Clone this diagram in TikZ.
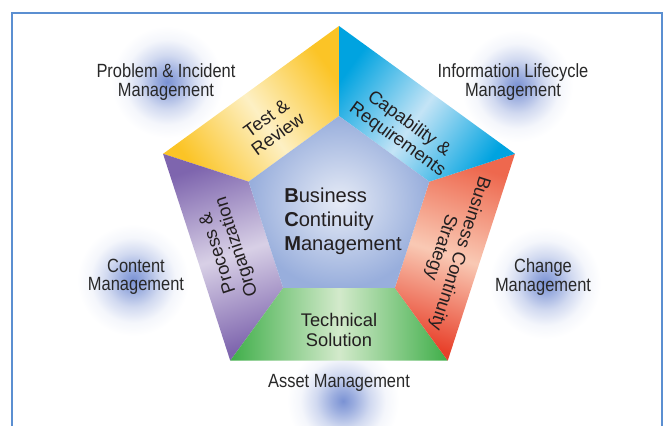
\documentclass[tikz,border=0pt]{standalone}
\usepackage{fontspec}
\setmainfont{Liberation Sans}
\newfontfamily\narrowfont[FakeStretch=0.86]{Liberation Sans}
\usepackage{tikz}

\definecolor{frameblue}{RGB}{91,143,209}
\definecolor{glowblue}{RGB}{122,146,212}
\definecolor{labelgray}{RGB}{40,40,40}
\definecolor{textdark}{RGB}{35,31,32}
\definecolor{yel}{RGB}{251,196,38}
\definecolor{yelpale}{RGB}{253,240,196}
\definecolor{capblue}{RGB}{0,163,224}
\definecolor{capbluepale}{RGB}{196,228,246}
\definecolor{redtop}{RGB}{238,104,78}
\definecolor{redbot}{RGB}{232,64,42}
\definecolor{redpale}{RGB}{249,201,180}
\definecolor{grn}{RGB}{63,174,73}
\definecolor{grnpale}{RGB}{211,234,203}
\definecolor{purp}{RGB}{126,101,174}
\definecolor{purppale}{RGB}{216,208,230}
\definecolor{bcmin}{RGB}{230,235,246}
\definecolor{bcmout}{RGB}{152,174,220}

\pgfdeclareradialshading{softglow}{\pgfpoint{0bp}{0bp}}{color(0bp)=(glowblue); color(5bp)=(glowblue!75!white); color(12bp)=(glowblue!35!white); color(19bp)=(glowblue!8!white); color(25bp)=(white); color(50bp)=(white)}

\begin{document}
\begin{tikzpicture}[x=0.025cm, y=0.025cm,
    lbl/.style={font=\narrowfont\fontsize{13.6}{13.2}\selectfont, text=labelgray, align=center},
    seg/.style={font=\fontsize{13}{14}\selectfont, text=textdark, align=center, inner sep=0},
    glow/.style={shading=softglow}]
    \useasboundingbox (-339, -215) rectangle (331, 211);
    \draw[frameblue, line width=1pt] (-327, -216) -- (-327, 198) -- (323, 198) -- (323, -216);

    \shade[glow] (-172, 129) circle (56);
    \shade[glow] (178, 125) circle (56);
    \shade[glow] (-206, -69) circle (56);
    \shade[glow] (206, -72) circle (56);
    \shade[glow] (4, -190) circle (56);

    \foreach \a [count=\i] in {90, 162, 234, 306, 18} {
        \coordinate (o\i) at (\a:185);
        \coordinate (i\i) at (\a:95);
    }
    \shade[top color=yel, bottom color=yel, middle color=yelpale, shading angle=-54] (o1) -- (o2) -- (i2) -- (i1) -- cycle;
    \shade[top color=purp, bottom color=purp, middle color=purppale, shading angle=18] (o2) -- (o3) -- (i3) -- (i2) -- cycle;
    \shade[top color=grn, bottom color=grn, middle color=grnpale, shading angle=90] (o3) -- (o4) -- (i4) -- (i3) -- cycle;
    \shade[top color=redtop, bottom color=redbot, middle color=redpale, shading angle=-18] (o4) -- (o5) -- (i5) -- (i4) -- cycle;
    \shade[top color=capblue, bottom color=capblue, middle color=capbluepale, shading angle=54] (o5) -- (o1) -- (i1) -- (i5) -- cycle;
    \shade[inner color=bcmin, outer color=bcmout] (i1) -- (i2) -- (i3) -- (i4) -- (i5) -- cycle;

    \node (bcm) [anchor=north west, inner sep=0, align=left, text=textdark, font=\fontsize{14.3}{17}\selectfont] at (-55, 23) {\textbf{B}usiness\\\textbf{C}ontinuity\\\textbf{M}anagement};
    \node (tr) [seg, rotate=36] at (-67, 85) {Test \&\\Review};
    \node (cr) [seg, rotate=-36] at (64, 79) {Capability \&\\Requirements};
    \node (bcs) [seg, rotate=-108] at (111, -39) {Business Continuity\\Strategy};
    \node (ts) [seg] at (0, -119) {Technical\\Solution};
    \node (po) [seg, rotate=108] at (-111, -39) {Process \&\\Organization};

    \node (pim) [lbl] at (-173, 129) {Problem \& Incident\\Management};
    \node (ilm) [lbl] at (174, 129) {Information Lifecycle\\Management};
    \node (cm) [lbl] at (-203, -66) {Content\\Management};
    \node (chm) [lbl] at (204, -66) {Change\\Management};
    \node (am) [lbl] at (0, -172) {Asset Management};
\end{tikzpicture}
\end{document}
